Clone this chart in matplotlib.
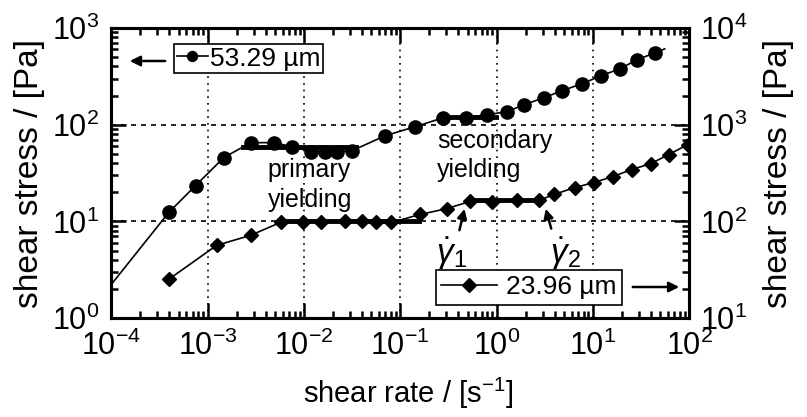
import matplotlib.pyplot as plt
from matplotlib.patches import FancyArrowPatch

plt.rcParams['font.family'] = ['Liberation Sans', 'DejaVu Sans']
plt.rcParams['mathtext.fontset'] = 'custom'
plt.rcParams['mathtext.rm'] = 'Liberation Sans'
plt.rcParams['mathtext.it'] = 'Liberation Sans:italic'

# serie 53.29 um (eje izquierdo); primer y ultimo punto solo linea
rate_a = [7.1e-5, 3.95e-4, 7.5e-4, 1.47e-3, 2.8e-3, 4.83e-3, 7.6e-3, 0.0117, 0.0167,
          0.0222, 0.0318, 0.070, 0.143, 0.279, 0.483, 0.798, 1.28, 1.93, 3.1, 4.77,
          7.69, 12.1, 19.1, 28.6, 43.9, 55.7]
stress_a = [1.46, 12.4, 23.5, 45.7, 65.2, 65.2, 59.3, 52.7, 52.7,
            52.7, 54.0, 77.0, 95.3, 118, 118, 127, 136, 161, 190, 224,
            265, 320, 378, 468, 552, 608]

# serie 23.96 um (eje derecho)
rate_b = [3.94e-4, 1.24e-3, 2.79e-3, 5.71e-3, 9.88e-3, 0.0152, 0.0269, 0.0404, 0.0564,
          0.0807, 0.161, 0.307, 0.531, 0.898, 1.63, 2.76, 3.94, 6.51, 10.2, 16.1,
          25.4, 39.9, 61.4, 96.3]
stress_b = [25.2, 56.6, 71.8, 97.7, 97.7, 97.7, 100, 100, 97.7,
            97.7, 118, 136, 161, 157, 165, 165, 190, 224, 252, 291,
            344, 396, 491, 622]

# mesetas (lineas gruesas)
plat_a = [([2.3e-3, 0.035], [59, 59]), ([0.286, 0.99], [121, 121])]
plat_b = [([5.7e-3, 0.157], [100, 100]), ([0.52, 2.89], [165, 165])]

fig = plt.figure(figsize=(8.07, 4.17), dpi=100)
ax1 = fig.add_axes([0.138, 0.237, 0.716, 0.696])
ax2 = ax1.twinx()

ax1.plot(rate_a, stress_a, color='black', lw=1.2, marker='o', ms=9.5,
         markevery=list(range(1, len(rate_a) - 1)), label='53.29 \u00b5m')
for px, py in plat_a:
    ax1.plot(px, py, color='black', lw=3.5)

ax2.plot(rate_b, stress_b, color='black', lw=1.2, marker='D', ms=7.5,
         label='23.96 \u00b5m')
for px, py in plat_b:
    ax2.plot(px, py, color='black', lw=3.5)

ax1.set_xscale('log')
ax1.set_yscale('log')
ax2.set_yscale('log')
ax1.set_xlim(1e-4, 1e2)
ax1.set_ylim(1, 1e3)
ax2.set_ylim(10, 1e4)

# cuadricula
for v in [1e-3, 1e-2, 1e-1, 1e0, 1e1]:
    ax1.axvline(v, color='black', lw=1.2, linestyle=(0, (1, 3)), zorder=0)
for v in [1e1, 1e2]:
    ax1.axhline(v, color='black', lw=1.2, linestyle=(0, (3, 3)), zorder=0)

for ax in (ax1, ax2):
    for s in ax.spines.values():
        s.set_linewidth(2.2)
    ax.tick_params(which='both', direction='in', labelsize=22, width=1.8)
    ax.tick_params(which='major', length=11)
    ax.tick_params(which='minor', length=5)
ax1.tick_params(which='both', top=True, right=False)
ax1.tick_params(axis='x', pad=9)
ax1.tick_params(axis='y', pad=9)
ax2.tick_params(axis='y', pad=8)

ax1.set_xlabel('shear rate / [s$^{-1}$]', fontsize=21)
ax1.set_ylabel('shear stress / [Pa]', fontsize=24)
ax2.set_ylabel('shear stress / [Pa]', fontsize=24)
ax1.xaxis.set_label_coords(0.513, -0.2)
ax1.yaxis.set_label_coords(-0.115, 0.5)
ax2.yaxis.set_label_coords(1.128, 0.5)

# textos
ax1.text(4.19e-3, 28.7, 'primary', fontsize=18, ha='left', va='baseline')
ax1.text(4.19e-3, 14.1, 'yielding', fontsize=18, ha='left', va='baseline')
ax1.text(0.2415, 57.3, 'secondary', fontsize=18, ha='left', va='baseline')
ax1.text(0.2415, 28.7, 'yielding', fontsize=18, ha='left', va='baseline')
ax1.annotate('', xy=(0.472, 14.4), xytext=(0.405, 7.6),
             arrowprops=dict(arrowstyle='-|>', color='black', lw=1.8, mutation_scale=14))
ax1.text(0.336, 4.6, r'$\dot{\gamma}_1$', fontsize=24, ha='center', va='center')
ax1.annotate('', xy=(3.18, 14.4), xytext=(3.76, 7.9),
             arrowprops=dict(arrowstyle='-|>', color='black', lw=1.8, mutation_scale=14))
ax1.text(5.13, 4.6, r'$\dot{\gamma}_2$', fontsize=24, ha='center', va='center')

# leyendas con flechas
lg1 = ax1.legend(loc='upper left', bbox_to_anchor=(174 / 807, 1 - 44 / 417),
                 bbox_transform=fig.transFigure, fontsize=19, frameon=True,
                 fancybox=False, edgecolor='black', framealpha=1, markerscale=0.75,
                 handlelength=1.2, handletextpad=0.05, borderpad=0.1, borderaxespad=0)
lg1.get_frame().set_linewidth(1.2)
lg2 = ax2.legend(loc='upper left', bbox_to_anchor=(436 / 807, 1 - 270 / 417),
                 bbox_transform=fig.transFigure, fontsize=19, frameon=True,
                 fancybox=False, edgecolor='black', framealpha=1, markerscale=0.9,
                 handlelength=2.1, handletextpad=0.35, borderpad=0.2, borderaxespad=0)
lg2.get_frame().set_linewidth(1.2)

fig.patches.append(FancyArrowPatch(
    (168 / 807, 1 - 61 / 417), (127 / 807, 1 - 61 / 417), transform=fig.transFigure,
    arrowstyle='-|>', mutation_scale=15, color='black', lw=1.8))
fig.patches.append(FancyArrowPatch(
    (630 / 807, 1 - 287 / 417), (682 / 807, 1 - 287 / 417), transform=fig.transFigure,
    arrowstyle='-|>', mutation_scale=15, color='black', lw=1.8))

fig.savefig('out.png', dpi=100)
